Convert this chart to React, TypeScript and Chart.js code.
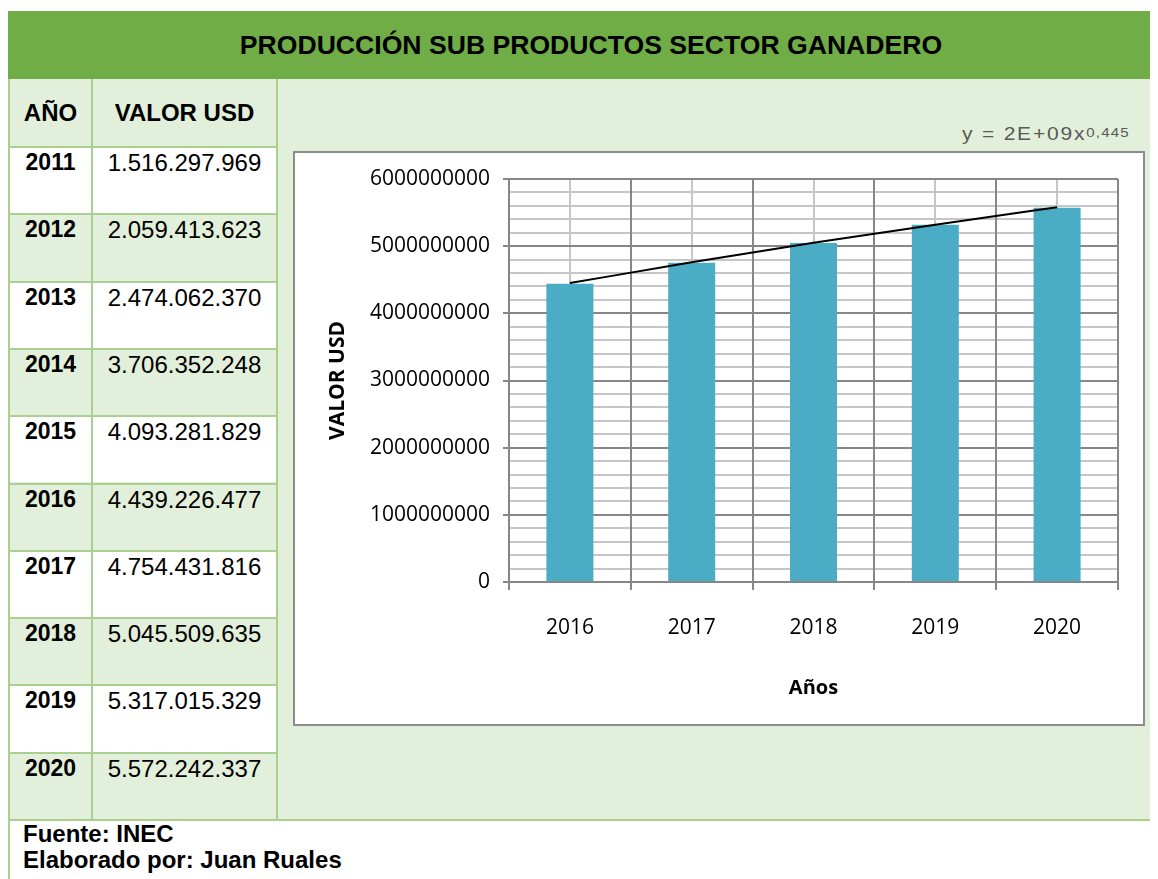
import React, { useEffect, useRef } from 'react';
import { Chart, registerables } from 'chart.js';

Chart.register(...registerables);

// ---------- data ----------
const TITLE = 'PRODUCCIÓN SUB PRODUCTOS SECTOR GANADERO';
const HEADER_YEAR = 'AÑO';
const HEADER_VALUE = 'VALOR USD';
const TABLE_YEARS = ['2011', '2012', '2013', '2014', '2015', '2016', '2017', '2018', '2019', '2020'];
const TABLE_VALUES = [
  '1.516.297.969',
  '2.059.413.623',
  '2.474.062.370',
  '3.706.352.248',
  '4.093.281.829',
  '4.439.226.477',
  '4.754.431.816',
  '5.045.509.635',
  '5.317.015.329',
  '5.572.242.337',
];
const CHART_YEARS = ['2016', '2017', '2018', '2019', '2020'];
const BAR_VALUES = [4439226477, 4754431816, 5045509635, 5317015329, 5572242337];
const TREND_VALUES = [4450000000, 4760000000, 5050000000, 5320000000, 5580000000];
const Y_MIN = 0;
const Y_MAX = 6000000000;
const Y_STEP = 1000000000;
const Y_MINOR_STEP = 200000000;
const X_TITLE = 'Años';
const Y_TITLE = 'VALOR USD';
const EQUATION = 'y = 2E+09x';
const EQUATION_EXP = '0,445';
const FOOTER_LINES = ['Fuente: INEC', 'Elaborado por: Juan Ruales'];

// ---------- styles ----------
const GREEN_DARK = '#70AD47';
const GREEN_LIGHT = '#E2EFDA';
const BORDER = '#A9D08E';
const GRID_MAJOR = '#878787';
const GRID_MINOR = '#C6C6C6';
const BAR_COLOR = '#4BACC6';
const ARIAL = '"Liberation Sans", Arial, sans-serif';
const CHART_FONT = '"Open Sans", sans-serif';

const ROW_TOP = 138;
const ROW_H = 67.3;
const COL1_L = 2;
const COL1_R = 83;
const COL2_L = 85;
const COL2_R = 268;

function ChartBox() {
  const ref = useRef<HTMLCanvasElement>(null);
  useEffect(() => {
    const canvas = ref.current;
    if (!canvas) return;
    const chart = new Chart(canvas, {
      type: 'bar',
      data: {
        labels: CHART_YEARS,
        datasets: [
          {
            type: 'line',
            label: 'Tendencia',
            data: TREND_VALUES,
            borderColor: '#000000',
            borderWidth: 2,
            pointRadius: 0,
            fill: false,
            cubicInterpolationMode: 'monotone',
            order: 0,
          } as any,
          {
            type: 'bar',
            label: Y_TITLE,
            data: BAR_VALUES,
            backgroundColor: BAR_COLOR,
            categoryPercentage: 1,
            barPercentage: 0.386,
            order: 1,
          },
        ],
      },
      options: {
        animation: false,
        responsive: false,
        layout: { padding: { top: 26, right: 25, left: 0, bottom: 0 } },
        plugins: { legend: { display: false }, tooltip: { enabled: false } },
        scales: {
          x: {
            position: 'bottom',
            offset: true,
            grid: { offset: true, color: GRID_MAJOR, lineWidth: 2, tickLength: 8, tickColor: GRID_MAJOR },
            border: { display: true, color: GRID_MAJOR, width: 2 },
            ticks: { color: '#000', font: { family: CHART_FONT, size: 21 }, padding: 25, maxRotation: 0, autoSkip: false },
            title: {
              display: true,
              text: X_TITLE,
              color: '#000',
              font: { family: CHART_FONT, size: 20, weight: 'bold' },
              padding: { top: 0, bottom: 24 },
            },
            afterFit: (s: any) => {
              s.height = 142;
            },
          },
          xMinor: {
            type: 'category',
            position: 'bottom',
            offset: true,
            grid: { offset: false, color: GRID_MINOR, lineWidth: 2, drawTicks: false, z: -2 },
            border: { display: false },
            ticks: { display: false },
            afterFit: (s: any) => {
              s.height = 0;
            },
          },
          y: {
            position: 'left',
            min: Y_MIN,
            max: Y_MAX,
            ticks: {
              stepSize: Y_STEP,
              callback: (v: any) => String(v),
              color: '#000',
              font: { family: CHART_FONT, size: 21 },
              padding: 13,
            },
            grid: { color: GRID_MAJOR, lineWidth: 2, tickLength: 6, tickColor: GRID_MAJOR },
            border: { display: true, color: GRID_MAJOR, width: 2 },
            title: {
              display: true,
              text: Y_TITLE,
              color: '#000',
              font: { family: CHART_FONT, size: 21, weight: 'bold' },
              padding: { top: 30, bottom: 0 },
            },
            afterFit: (s: any) => {
              s.width = 214;
            },
          },
          yMinor: {
            position: 'left',
            min: Y_MIN,
            max: Y_MAX,
            ticks: { stepSize: Y_MINOR_STEP, display: false },
            grid: { color: GRID_MINOR, lineWidth: 2, drawTicks: false, z: -2 },
            border: { display: false },
            afterFit: (s: any) => {
              s.width = 0;
            },
          },
        },
      } as any,
    });
    return () => chart.destroy();
  }, []);

  return (
    <div
      style={{
        position: 'absolute',
        left: 285,
        top: 143,
        width: 848,
        height: 571,
        border: '2px solid #8C8C8C',
        background: '#fff',
      }}
    >
      <canvas ref={ref} width={848} height={571} style={{ display: 'block', width: 848, height: 571 }} />
    </div>
  );
}

export default function App() {
  const lines: React.ReactNode[] = [];
  for (let k = 0; k <= TABLE_YEARS.length; k++) {
    lines.push(
      <div
        key={'h' + k}
        style={{ position: 'absolute', left: 0, top: ROW_TOP + k * ROW_H, width: k === TABLE_YEARS.length ? 1150 : 270, height: 2, background: BORDER }}
      />
    );
  }
  const cellText = (bold: boolean) => ({
    position: 'absolute' as const,
    fontFamily: ARIAL,
    fontSize: 24,
    lineHeight: '27px',
    fontWeight: bold ? 700 : 400,
    color: '#000',
    textAlign: 'center' as const,
    whiteSpace: 'nowrap' as const,
  });

  return (
    <div style={{ position: 'relative', width: 1150, height: 871, fontFamily: ARIAL, overflow: 'hidden' }}>
      {/* title band */}
      <div
        style={{
          position: 'absolute',
          left: 0,
          top: 3,
          width: 1150,
          height: 68,
          background: GREEN_DARK,
          display: 'flex',
          alignItems: 'center',
          justifyContent: 'center',
          paddingLeft: 16,
          boxSizing: 'border-box',
          fontSize: 26.6,
          fontWeight: 700,
          color: '#000',
          whiteSpace: 'nowrap',
        }}
      >
        {TITLE}
      </div>
      {/* body background */}
      <div style={{ position: 'absolute', left: 0, top: 71, width: 1150, height: 742, background: GREEN_LIGHT }} />
      {/* white rows */}
      {TABLE_YEARS.map((_, i) =>
        i % 2 === 0 ? (
          <div
            key={'w' + i}
            style={{ position: 'absolute', left: COL1_L, top: ROW_TOP + i * ROW_H, width: COL2_R - COL1_L, height: ROW_H, background: '#fff' }}
          />
        ) : null
      )}
      {lines}
      {/* vertical lines */}
      <div style={{ position: 'absolute', left: 0, top: 71, width: 2, height: 800, background: BORDER }} />
      <div style={{ position: 'absolute', left: COL1_R, top: 71, width: 2, height: 742, background: BORDER }} />
      <div style={{ position: 'absolute', left: COL2_R, top: 71, width: 2, height: 742, background: BORDER }} />
      {/* header */}
      <div style={{ ...cellText(true), left: COL1_L, width: COL1_R - COL1_L, top: 91 }}>{HEADER_YEAR}</div>
      <div style={{ ...cellText(true), left: COL2_L, width: COL2_R - COL2_L, top: 91 }}>{HEADER_VALUE}</div>
      {/* rows */}
      {TABLE_YEARS.map((y, i) => (
        <React.Fragment key={'r' + i}>
          <div style={{ ...cellText(true), fontSize: 23, left: COL1_L, width: COL1_R - COL1_L, top: ROW_TOP + i * ROW_H + 3 }}>{y}</div>
          <div style={{ ...cellText(false), left: COL2_L, width: COL2_R - COL2_L, top: ROW_TOP + i * ROW_H + 3 }}>{TABLE_VALUES[i]}</div>
        </React.Fragment>
      ))}
      {/* equation */}
      <div
        style={{
          position: 'absolute',
          left: 954,
          top: 116,
          fontFamily: ARIAL,
          fontSize: 17.5,
          letterSpacing: '1.5px',
          color: '#595959',
          whiteSpace: 'nowrap',
          lineHeight: '20px',
          transform: 'scaleX(1.2)',
          transformOrigin: 'left top',
        }}
      >
        {EQUATION}
        <span style={{ fontSize: 12.5, letterSpacing: '1px', verticalAlign: 'top', position: 'relative', top: -1 }}>{EQUATION_EXP}</span>
      </div>
      <ChartBox />
      {/* footer */}
      <div style={{ position: 'absolute', left: 15, top: 813, fontFamily: ARIAL, fontSize: 24, fontWeight: 700, lineHeight: '25.5px', whiteSpace: 'nowrap' }}>
        {FOOTER_LINES.map((t) => (
          <div key={t}>{t}</div>
        ))}
      </div>
    </div>
  );
}
